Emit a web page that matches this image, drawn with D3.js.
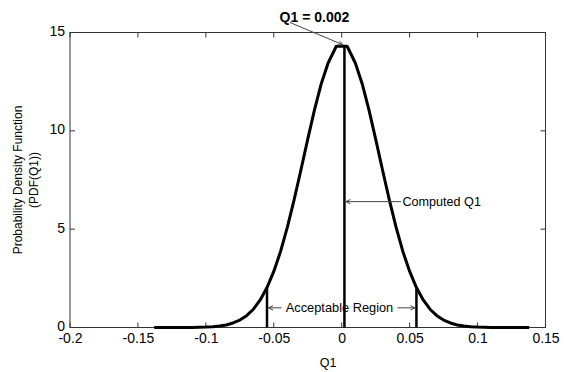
<!DOCTYPE html>
<html>
<head>
<meta charset="utf-8">
<script src="https://cdn.jsdelivr.net/npm/d3@7"></script>
<style>
  html, body { margin: 0; padding: 0; background: #fff; }
  svg { display: block; font-family: "Liberation Sans", Arial, sans-serif; }
</style>
</head>
<body>
<svg id="chart" width="564" height="372"></svg>
<script>
// Estimated PDF curve of Q1 (sample points along the bell curve)
const q1Values = [-0.138, -0.12, -0.11, -0.10, -0.095, -0.09, -0.085, -0.08, -0.075, -0.07,
  -0.065, -0.06, -0.055, -0.05, -0.045, -0.04, -0.035, -0.03, -0.025, -0.02, -0.015, -0.01,
  -0.004, 0.004, 0.01, 0.015, 0.02, 0.025, 0.03, 0.035, 0.04, 0.045, 0.05, 0.055, 0.06,
  0.065, 0.07, 0.075, 0.08, 0.085, 0.09, 0.095, 0.10, 0.11, 0.12, 0.138];
const pdfValues = [0, 0.001, 0.006, 0.022, 0.042, 0.076, 0.13, 0.23, 0.38, 0.60,
  0.93, 1.40, 2.03, 2.85, 3.87, 5.10, 6.50, 8.02, 9.58, 11.08, 12.41, 13.45,
  14.3, 14.3, 13.45, 12.41, 11.08, 9.58, 8.02, 6.50, 5.10, 3.87, 2.85, 2.03, 1.40,
  0.93, 0.60, 0.38, 0.23, 0.13, 0.076, 0.042, 0.022, 0.006, 0.001, 0];

// Computed Q1 and the acceptable-region bounds
const computedQ1 = 0.002;
const computedPdf = 14.3;
const regionBounds = [-0.055, 0.055];
const regionPdf = [2.0, 2.0];

// Axis ticks
const xTicks = [-0.2, -0.15, -0.1, -0.05, 0, 0.05, 0.1, 0.15];
const xTickLabels = ["-0.2", "-0.15", "-0.1", "-0.05", "0", "0.05", "0.1", "0.15"];
const yTicks = [0, 5, 10, 15];
const yTickLabels = ["0", "5", "10", "15"];

const svg = d3.select("#chart");
const plotLeft = 70, plotRight = 545.5, plotTop = 32.5, plotBottom = 327.5;
const axisColor = "#333";

const x = d3.scaleLinear().domain([-0.2, 0.15]).range([plotLeft, plotRight]);
const y = d3.scaleLinear().domain([0, 15]).range([plotBottom, plotTop]);

// Axes box
svg.append("rect")
  .attr("x", plotLeft).attr("y", plotTop)
  .attr("width", plotRight - plotLeft).attr("height", plotBottom - plotTop)
  .attr("fill", "none").attr("stroke", axisColor).attr("stroke-width", 1);

// Inward ticks on all four sides (labels bottom / left)
const tickLen = 5;
const xAxisBottom = d3.axisBottom(x).tickValues(xTicks).tickSize(0).tickPadding(6)
  .tickFormat((d, i) => xTickLabels[i]);
const gxb = svg.append("g").attr("transform", `translate(0,${plotBottom})`).call(xAxisBottom);
gxb.select(".domain").remove();
gxb.selectAll("text").attr("font-size", 14).attr("fill", "#000")
  .attr("font-family", "Liberation Sans, Arial, sans-serif");

const yAxisLeft = d3.axisLeft(y).tickValues(yTicks).tickSize(0).tickPadding(5)
  .tickFormat((d, i) => yTickLabels[i]);
const gyl = svg.append("g").attr("transform", `translate(${plotLeft},0)`).call(yAxisLeft);
gyl.select(".domain").remove();
gyl.selectAll("text").attr("font-size", 14).attr("fill", "#000")
  .attr("font-family", "Liberation Sans, Arial, sans-serif")
  .attr("y", -1.5);

const tickG = svg.append("g").attr("stroke", axisColor).attr("stroke-width", 1);
xTicks.forEach(t => {
  tickG.append("line").attr("x1", x(t)).attr("x2", x(t)).attr("y1", plotBottom).attr("y2", plotBottom - tickLen);
  tickG.append("line").attr("x1", x(t)).attr("x2", x(t)).attr("y1", plotTop).attr("y2", plotTop + tickLen);
});
yTicks.forEach(t => {
  tickG.append("line").attr("y1", y(t)).attr("y2", y(t)).attr("x1", plotLeft).attr("x2", plotLeft + tickLen);
  tickG.append("line").attr("y1", y(t)).attr("y2", y(t)).attr("x1", plotRight).attr("x2", plotRight - tickLen);
});

// PDF curve
const pts = q1Values.map((q, i) => [q, pdfValues[i]]);
svg.append("path")
  .datum(pts)
  .attr("d", d3.line().x(d => x(d[0])).y(d => y(d[1])))
  .attr("fill", "none").attr("stroke", "#000").attr("stroke-width", 3)
  .attr("stroke-linejoin", "round");

// Vertical markers
svg.append("line")
  .attr("x1", x(computedQ1)).attr("x2", x(computedQ1))
  .attr("y1", y(0)).attr("y2", y(computedPdf))
  .attr("stroke", "#000").attr("stroke-width", 2.5);
regionBounds.forEach((b, i) => {
  svg.append("line")
    .attr("x1", x(b)).attr("x2", x(b))
    .attr("y1", y(0)).attr("y2", y(regionPdf[i]))
    .attr("stroke", "#000").attr("stroke-width", 2.5);
});

// Annotation arrows
const annColor = "#444";
function arrow(x1, y1, x2, y2) {
  svg.append("line").attr("x1", x1).attr("y1", y1).attr("x2", x2).attr("y2", y2)
    .attr("stroke", annColor).attr("stroke-width", 1);
  const a = Math.atan2(y2 - y1, x2 - x1), len = 5, spread = 0.45;
  const p1 = [x2 - len * Math.cos(a - spread), y2 - len * Math.sin(a - spread)];
  const p2 = [x2 - len * Math.cos(a + spread), y2 - len * Math.sin(a + spread)];
  svg.append("path").attr("d", `M${p1[0]},${p1[1]}L${x2},${y2}L${p2[0]},${p2[1]}`)
    .attr("fill", "none").attr("stroke", annColor).attr("stroke-width", 1);
}

// "Q1 = 0.002" label pointing to the peak
svg.append("text")
  .attr("x", x(computedQ1) - 30).attr("y", 21.5)
  .attr("text-anchor", "middle").attr("font-size", 14).attr("font-weight", "bold")
  .attr("fill", "#000").text("Q1 = 0.002");
arrow(290, 22.5, x(computedQ1) - 1.5, y(computedPdf) - 1.5);

// "Computed Q1" label
const cqY = y(6.4);
svg.append("text")
  .attr("x", 402.5).attr("y", cqY).attr("dy", "0.35em")
  .attr("font-size", 12.6).attr("fill", "#000").text("Computed Q1");
arrow(401, cqY, x(computedQ1) + 1.5, cqY);

// "Acceptable Region" label
const arY = y(1.0);
svg.append("text")
  .attr("x", 339.5).attr("y", arY).attr("dy", "0.35em")
  .attr("text-anchor", "middle")
  .attr("font-size", 12.8).attr("fill", "#000").text("Acceptable Region");
arrow(281.5, arY, x(regionBounds[0]) + 1.5, arY);
arrow(397.5, arY, x(regionBounds[1]) - 1.5, arY);

// Axis titles
svg.append("text")
  .attr("x", 328).attr("y", 366.5)
  .attr("text-anchor", "middle").attr("font-size", 12.5).attr("fill", "#000").text("Q1");

const yl = svg.append("g").attr("transform", `translate(0,${(plotTop + plotBottom) / 2}) rotate(-90)`);
yl.append("text").attr("x", 0).attr("y", 22)
  .attr("text-anchor", "middle").attr("font-size", 12).attr("fill", "#000")
  .text("Probability Density Function");
yl.append("text").attr("x", 0).attr("y", 38)
  .attr("text-anchor", "middle").attr("font-size", 12).attr("fill", "#000")
  .text("(PDF(Q1))");
</script>
</body>
</html>
